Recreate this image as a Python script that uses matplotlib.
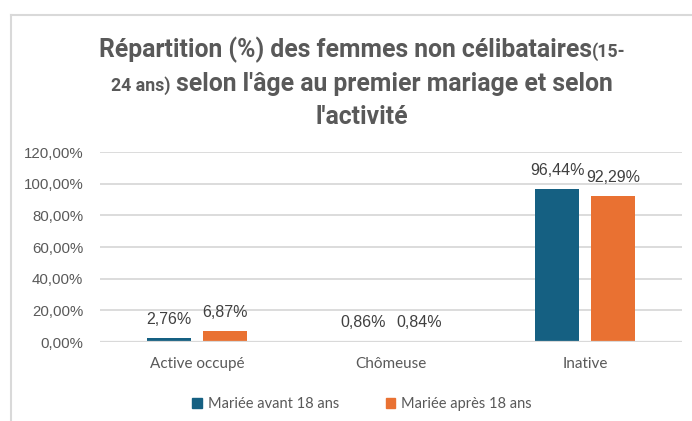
import matplotlib
matplotlib.use("Agg")
import matplotlib.pyplot as plt
import numpy as np
from matplotlib.lines import Line2D
from matplotlib.patches import Patch

categories = ["Active occupé", "Chômeuse", "Inative"]
avant_18 = [2.76, 0.86, 96.44]
apres_18 = [6.87, 0.84, 92.29]
series_names = ["Mariée avant 18 ans", "Mariée après 18 ans"]
y_ticks = [0, 20, 40, 60, 80, 100, 120]

BLUE = "#156082"
ORANGE = "#E97132"
GREY = "#595959"
GRID = "#d9d9d9"
W, H = 692, 421

plt.rcParams["font.family"] = ["Liberation Sans", "DejaVu Sans"]

fig = plt.figure(figsize=(W / 100, H / 100), dpi=100)
ax = fig.add_axes([100 / W, 1 - 342 / H, 582 / W, 190 / H])

x = np.arange(len(categories))
bw = 0.227
off = 0.144
b1 = ax.bar(x - off, avant_18, bw, color=BLUE, zorder=2)
b2 = ax.bar(x + off, apres_18, bw, color=ORANGE, zorder=2)

def pct(v):
    return f"{v:.2f}%".replace(".", ",")

for bars in (b1, b2):
    for rect in bars:
        v = rect.get_height()
        ax.annotate(pct(v), (rect.get_x() + rect.get_width() / 2, v),
                    xytext=(0, 8), textcoords="offset points", ha="center",
                    va="bottom", fontsize=11.5, color="#404040")

ax.set_xlim(-0.5, 2.5)
ax.set_ylim(0, 120)
ax.set_yticks(y_ticks)
ax.set_yticklabels([pct(v) for v in y_ticks], fontsize=10.8, color=GREY)
ax.set_xticks(x)
ax.set_xticklabels(categories, fontsize=11, color=GREY, family=["Lato", "DejaVu Sans"])
ax.tick_params(axis="both", length=0)
ax.tick_params(axis="y", pad=12)
ax.tick_params(axis="x", pad=11)
ax.grid(axis="y", color=GRID, linewidth=1.3, zorder=0)
ax.axhline(0, color=GRID, linewidth=1.6, zorder=3)
for s in ax.spines.values():
    s.set_visible(False)

# legend
handles = [Patch(color=BLUE), Patch(color=ORANGE)]
fig.legend(handles, series_names, loc="center", bbox_to_anchor=(362 / W, 1 - 404 / H),
           ncol=2, frameon=False, handlelength=0.65, handleheight=0.65,
           handletextpad=0.4, columnspacing=3.2,
           prop={"family": ["Lato", "DejaVu Sans"], "size": 10.5},
           labelcolor=GREY)

# title, built from pieces with two sizes
title_font = ["Roboto", "DejaVu Sans"]
big, small = 17.8, 12.8
lines = [
    ([("Répartition (%) des femmes non célibataires", big), ("(15-", small)], 57),
    ([("24 ans)", small), (" selon l'âge au premier mariage et selon", big)], 91),
    ([("l'activité", big)], 124),
]
r = fig.canvas.get_renderer()
cx = 362
for parts, base in lines:
    texts = [fig.text(0, 1 - base / H, s, fontsize=fs, fontweight="bold",
                      color=GREY, va="baseline", ha="left", family=title_font)
             for s, fs in parts]
    widths = [t.get_window_extent(r).width for t in texts]
    xp = cx - sum(widths) / 2
    for t, w in zip(texts, widths):
        t.set_x(xp / W)
        xp += w

# chart frame (left and top edges only visible)
fig.add_artist(Line2D([11 / W, 11 / W], [0, 1 - 15 / H], color=GRID, lw=1.5))
fig.add_artist(Line2D([11 / W, 1], [1 - 15 / H, 1 - 15 / H], color=GRID, lw=1.5))

fig.savefig("out.png", dpi=100)
